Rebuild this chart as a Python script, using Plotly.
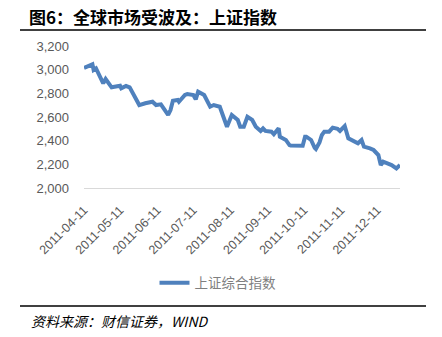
import plotly.graph_objects as go

# Shanghai Composite daily closes (selected sessions), 2011
dates = [
    "2011-04-11", "2011-04-13", "2011-04-18", "2011-04-19", "2011-04-21",
    "2011-04-27", "2011-04-29", "2011-05-04", "2011-05-06", "2011-05-11",
    "2011-05-12", "2011-05-16", "2011-05-19", "2011-05-25", "2011-05-27",
    "2011-06-01", "2011-06-07", "2011-06-10", "2011-06-14", "2011-06-20",
    "2011-06-22", "2011-06-24", "2011-06-28", "2011-06-29", "2011-07-04",
    "2011-07-06", "2011-07-11", "2011-07-13", "2011-07-14", "2011-07-15",
    "2011-07-20", "2011-07-25", "2011-07-28", "2011-08-02", "2011-08-08",
    "2011-08-10", "2011-08-12", "2011-08-17", "2011-08-19", "2011-08-22",
    "2011-08-25", "2011-08-29", "2011-09-01", "2011-09-05", "2011-09-07",
    "2011-09-09", "2011-09-14", "2011-09-16", "2011-09-20", "2011-09-21",
    "2011-09-26", "2011-09-29", "2011-09-30", "2011-10-10", "2011-10-12",
    "2011-10-13", "2011-10-17", "2011-10-20", "2011-10-21", "2011-10-24",
    "2011-10-26", "2011-10-28", "2011-11-01", "2011-11-04", "2011-11-08",
    "2011-11-10", "2011-11-14", "2011-11-17", "2011-11-22", "2011-11-25",
    "2011-11-28", "2011-11-30", "2011-12-05", "2011-12-08", "2011-12-12",
    "2011-12-14", "2011-12-16", "2011-12-19", "2011-12-22", "2011-12-23",
    "2011-12-27", "2011-12-30",
]
sse_composite = [
    3014, 3025, 3045, 2997, 3011,
    2885, 2921, 2851, 2856, 2864,
    2842, 2862, 2851, 2729, 2701,
    2716, 2729, 2701, 2707, 2617,
    2659, 2738, 2744, 2729, 2786,
    2794, 2786, 2749, 2794, 2814,
    2786, 2687, 2701, 2687, 2518,
    2575, 2617, 2575, 2518, 2518,
    2602, 2575, 2518, 2482, 2504,
    2482, 2476, 2454, 2504, 2434,
    2406, 2363, 2360, 2357, 2434,
    2434, 2406, 2340, 2330, 2385,
    2448, 2476, 2476, 2510, 2500,
    2482, 2524, 2420, 2397, 2378,
    2406, 2349, 2335, 2321, 2279,
    2194, 2222, 2209, 2194, 2194,
    2166, 2194,
]
tick_dates = [
    "2011-04-11", "2011-05-11", "2011-06-11", "2011-07-11", "2011-08-11",
    "2011-09-11", "2011-10-11", "2011-11-11", "2011-12-11",
]
series_name = "上证综合指数"
title_text = "图6：全球市场受波及：上证指数"
source_text = "资料来源：财信证券，WIND"

W, H = 442, 337
L, R, T, B = 84, 400, 46, 188  # plot area edges in pixels


def fx(px):
    return (px - L) / (R - L)


def fy(py):
    return (B - py) / (B - T)


fig = go.Figure()
fig.add_trace(go.Scatter(
    x=dates, y=sse_composite, mode="lines", name=series_name,
    line=dict(color="#4F81BD", width=4),
))

fig.update_layout(
    width=W, height=H, autosize=False,
    margin=dict(l=L, r=W - R, t=T, b=H - B),
    paper_bgcolor="white", plot_bgcolor="white",
    font=dict(family="Liberation Sans, Arial, sans-serif", color="#595959", size=12),
    showlegend=True,
    legend=dict(
        orientation="h", x=fx(218), y=fy(283), xanchor="center", yanchor="middle",
        font=dict(family="Noto Sans CJK SC", size=13.5, color="#7f7f7f"),
        itemwidth=30, bgcolor="rgba(0,0,0,0)",
    ),
    xaxis=dict(
        type="date", range=["2011-04-11", "2011-12-30"],
        tickvals=tick_dates, ticktext=tick_dates, tickangle=-45,
        showgrid=False, zeroline=False, showline=True,
        linecolor="#d9d9d9", linewidth=1, ticks="",
        ticklabelstandoff=9,
        tickfont=dict(size=12.5, color="#595959"),
    ),
    yaxis=dict(
        range=[2000, 3200], dtick=200, tickformat=",",
        showgrid=False, zeroline=False, showline=False, ticks="",
        ticklabelstandoff=14,
        tickfont=dict(size=13, color="#595959"),
    ),
    shapes=[
        dict(type="line", xref="paper", yref="paper", x0=fx(20), x1=fx(426),
             y0=fy(30), y1=fy(30), line=dict(color="black", width=1.5)),
        dict(type="line", xref="paper", yref="paper", x0=fx(20), x1=fx(426),
             y0=fy(306), y1=fy(306), line=dict(color="black", width=1.5)),
    ],
    annotations=[
        dict(text="<b>" + title_text + "</b>", xref="paper", yref="paper",
             x=fx(27), y=fy(16), xanchor="left", yanchor="middle", showarrow=False,
             font=dict(family="Noto Sans CJK SC", size=17, color="black")),
        dict(text="<i>" + source_text + "</i>", xref="paper", yref="paper",
             x=fx(29), y=fy(321), xanchor="left", yanchor="middle", showarrow=False,
             font=dict(family="Noto Sans CJK SC", size=14, color="black")),
    ],
)

fig.write_html("out.html")
